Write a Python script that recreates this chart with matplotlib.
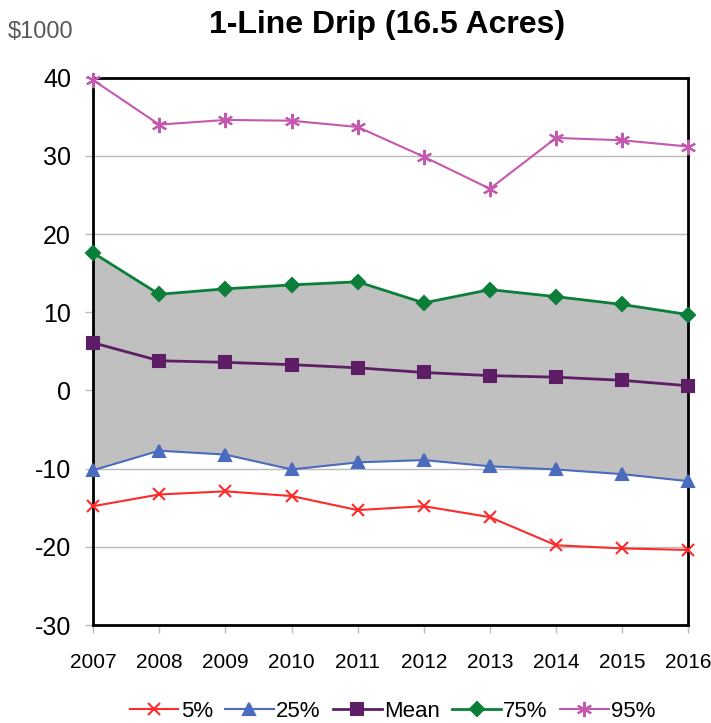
import matplotlib
matplotlib.use("Agg")
import matplotlib.pyplot as plt

years = [2007, 2008, 2009, 2010, 2011, 2012, 2013, 2014, 2015, 2016]
p5 = [-14.8, -13.3, -12.9, -13.5, -15.3, -14.8, -16.2, -19.8, -20.2, -20.4]
p25 = [-10.2, -7.7, -8.2, -10.1, -9.2, -8.9, -9.7, -10.1, -10.7, -11.6]
mean = [6.1, 3.8, 3.6, 3.3, 2.9, 2.3, 1.9, 1.7, 1.3, 0.6]
p75 = [17.6, 12.3, 13.0, 13.5, 13.9, 11.2, 12.9, 12.0, 11.0, 9.7]
p95 = [39.7, 34.0, 34.6, 34.5, 33.7, 29.9, 25.8, 32.3, 32.0, 31.2]
series_labels = ["5%", "25%", "Mean", "75%", "95%"]
yticks = [-30, -20, -10, 0, 10, 20, 30, 40]

plt.rcParams['font.family'] = ['Liberation Sans', 'DejaVu Sans']

fig = plt.figure(figsize=(7.11, 7.23), dpi=100)
ax = fig.add_axes([0.131, 0.1355, 0.837, 0.757])

ax.fill_between(years, p25, p75, color="#C0C0C0", zorder=1, linewidth=0)

styles = [
    (p5, "#FF2A2A", "x", 9, 1.5),
    (p25, "#4A6BBE", "^", 9, 1.5),
    (mean, "#5E1E66", "s", 8, 2.0),
    (p75, "#0B7F3A", "D", 7, 2.0),
    (p95, "#C457AE", (6, 2, 0), 11, 1.5),
]
handles = []
for (vals, col, mk, ms, lw), lab in zip(styles, series_labels):
    h, = ax.plot(years, vals, color=col, marker=mk, markersize=ms, linewidth=lw,
                 markeredgecolor=col, markerfacecolor=col, markeredgewidth=1.5,
                 label=lab, zorder=3, clip_on=False)
    handles.append(h)

ax.set_xlim(2007, 2016)
ax.set_ylim(-30, 40)
ax.set_yticks(yticks)
ax.set_xticks(years)
ax.set_xticklabels([str(y) for y in years], fontsize=15)
ax.set_yticklabels([str(v) for v in yticks], fontsize=18)
ax.grid(axis="y", color="#BBBBBB", linewidth=1, zorder=0)
ax.set_axisbelow(True)
ax.tick_params(axis="both", direction="out", length=6, color="#BBBBBB", width=1)
ax.tick_params(axis="x", pad=14)
ax.tick_params(axis="y", pad=10)
for sp in ax.spines.values():
    sp.set_linewidth(2)
    sp.set_color("black")

fig.text(0.545, 0.966, "1-Line Drip (16.5 Acres)", ha="center", va="center",
         fontsize=23, fontweight="bold")
fig.text(0.011, 0.956, "$1000", ha="left", va="center", fontsize=17, color="#595959")

fig.legend(handles=handles, loc="center", bbox_to_anchor=(0.552, 0.016), ncol=5,
           frameon=False, fontsize=16, handlelength=2.2, handletextpad=0.1,
           columnspacing=0.55)

fig.savefig("out.png", dpi=100)
